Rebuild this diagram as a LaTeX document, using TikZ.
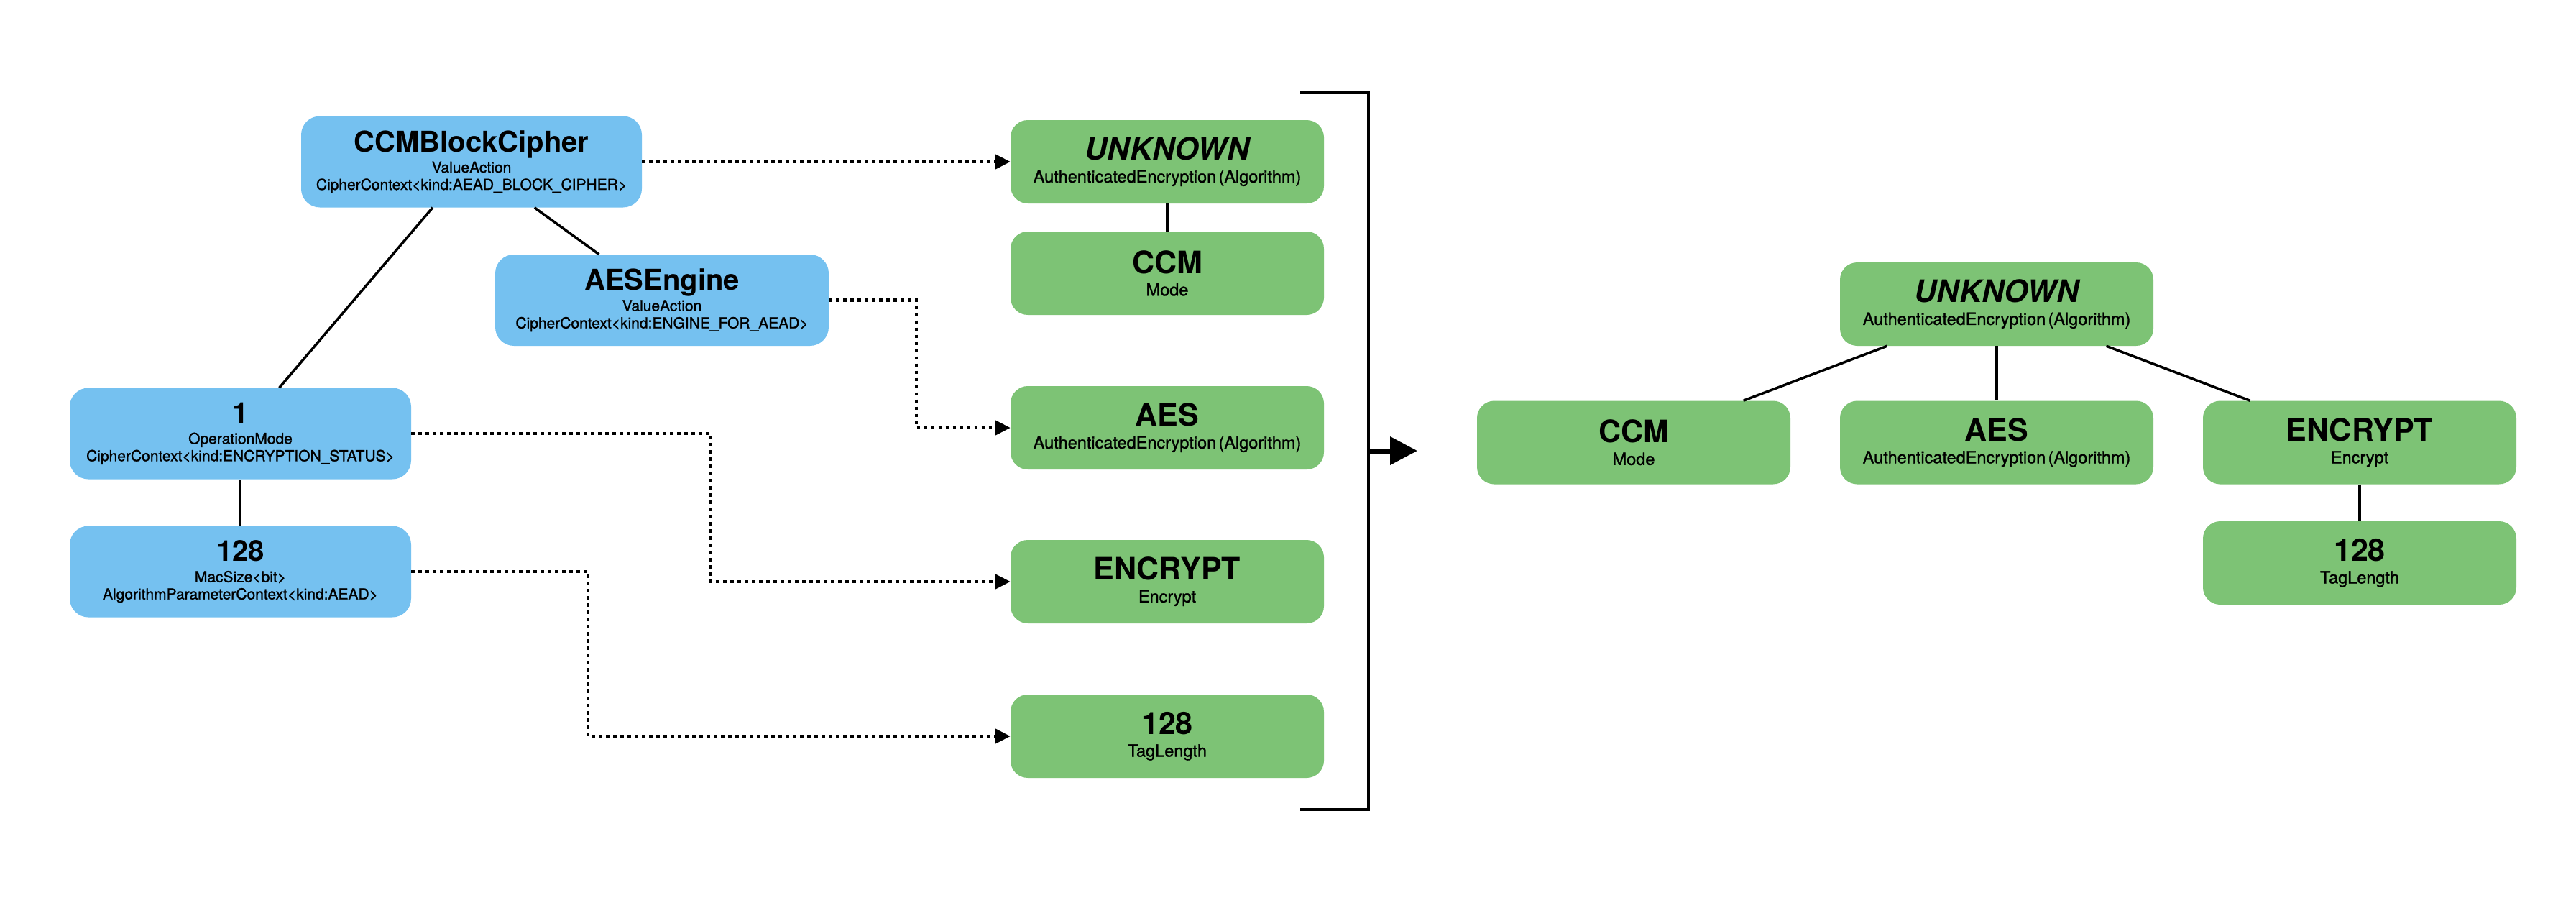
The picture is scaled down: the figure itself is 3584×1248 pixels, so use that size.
\documentclass[tikz,border=0pt]{standalone}
\usepackage{fontspec}
\setmainfont{TeX Gyre Heros}
\newfontfamily\subf[FakeBold=1.2]{TeX Gyre Heros}
\usetikzlibrary{arrows.meta}
\definecolor{bluec}{HTML}{75C1F0}
\definecolor{greenc}{HTML}{7DC375}
\newcommand{\bt}[1]{{\fontsize{40}{40}\selectfont\bfseries #1\par}}
\newcommand{\bsa}[1]{{\subf\fontsize{21}{29}\selectfont #1\par}}
\newcommand{\bsb}[1]{{\subf\fontsize{21}{24}\selectfont #1\par}}
\newcommand{\gt}[1]{{\fontsize{43}{43}\selectfont\bfseries #1\par}}
\newcommand{\gs}[1]{{\subf\fontsize{23.5}{31}\selectfont #1\par}}
\tikzset{
  bluebox/.style={fill=bluec, rounded corners=26pt, inner sep=0pt, align=center, minimum height=127pt},
  greenbox/.style={fill=greenc, rounded corners=24pt, inner sep=0pt, align=center, text width=436pt, minimum width=436pt, minimum height=116pt},
  link/.style={line width=3.5pt},
  dotlink/.style={line width=4.5pt, dash pattern=on 4.5pt off 5.5pt, -{Triangle[length=21pt,width=20pt]}},
}
\begin{document}
\begin{tikzpicture}[x=1pt,y=-1pt]
\useasboundingbox (0,0) rectangle (3584,1248);
% blue nodes
\node[bluebox, text width=474pt, minimum width=474pt] (ccmbc) at (656,225)
  {\bt{CCMBlockCipher}\bsa{ValueAction}\bsb{CipherContext<kind:AEAD\_BLOCK\_CIPHER>}};
\node[bluebox, text width=464pt, minimum width=464pt] (aeseng) at (921,417.5)
  {\bt{AESEngine}\bsa{ValueAction}\bsb{CipherContext<kind:ENGINE\_FOR\_AEAD>}};
\node[bluebox, text width=475pt, minimum width=475pt] (opmode) at (334.5,603)
  {\bt{1}\bsa{OperationMode}\bsb{CipherContext<kind:ENCRYPTION\_STATUS>}};
\node[bluebox, text width=475pt, minimum width=475pt] (macsize) at (334.5,795)
  {\bt{128}\bsa{MacSize<bit>}\bsb{AlgorithmParameterContext<kind:AEAD>}};
% middle green nodes
\node[greenbox] (unkA) at (1624,225) {\gt{\itshape UNKNOWN}\gs{AuthenticatedEncryption (Algorithm)}};
\node[greenbox] (ccmA) at (1624,380) {\gt{CCM}\gs{Mode}};
\node[greenbox] (aesA) at (1624,595) {\gt{AES}\gs{AuthenticatedEncryption (Algorithm)}};
\node[greenbox] (encA) at (1624,809) {\gt{ENCRYPT}\gs{Encrypt}};
\node[greenbox] (tagA) at (1624,1024) {\gt{128}\gs{TagLength}};
% right green nodes
\node[greenbox] (unkB) at (2778,423) {\gt{\itshape UNKNOWN}\gs{AuthenticatedEncryption (Algorithm)}};
\node[greenbox] (ccmB) at (2273,615.5) {\gt{CCM}\gs{Mode}};
\node[greenbox] (aesB) at (2778,615.5) {\gt{AES}\gs{AuthenticatedEncryption (Algorithm)}};
\node[greenbox] (encB) at (3283,615.5) {\gt{ENCRYPT}\gs{Encrypt}};
\node[greenbox] (tagB) at (3283,783) {\gt{128}\gs{TagLength}};
% solid links
\draw[link] (ccmbc) -- (aeseng);
\draw[link] (ccmbc) -- (opmode);
\draw[link] (opmode) -- (macsize);
\draw[link] (unkA) -- (ccmA);
\draw[link] (unkB) -- (ccmB);
\draw[link] (unkB) -- (aesB);
\draw[link] (unkB) -- (encB);
\draw[link] (encB) -- (tagB);
% dotted links
\coordinate (t1) at (1275,0);
\coordinate (t2) at (989,0);
\coordinate (t3) at (818,0);
\draw[dotlink] (ccmbc.east) -- (unkA.west |- ccmbc.east);
\draw[dotlink] (aeseng.east) -| (t1 |- aesA.west) -- (aesA.west);
\draw[dotlink] (opmode.east) -| (t2 |- encA.west) -- (encA.west);
\draw[dotlink] (macsize.east) -| (t3 |- tagA.west) -- (tagA.west);
% bracket and arrow
\coordinate (b1) at (1809,128.5);
\coordinate (b2) at (1904,128.5);
\coordinate (b3) at (1904,1126);
\coordinate (b4) at (1809,1126);
\coordinate (a1) at (1904,627);
\coordinate (a2) at (1972,627);
\draw[line width=4pt] (b1) -- (b2) -- (b3) -- (b4);
\draw[line width=7pt, -{Triangle[length=38pt,width=38pt]}] (a1) -- (a2);
\end{tikzpicture}
\end{document}
